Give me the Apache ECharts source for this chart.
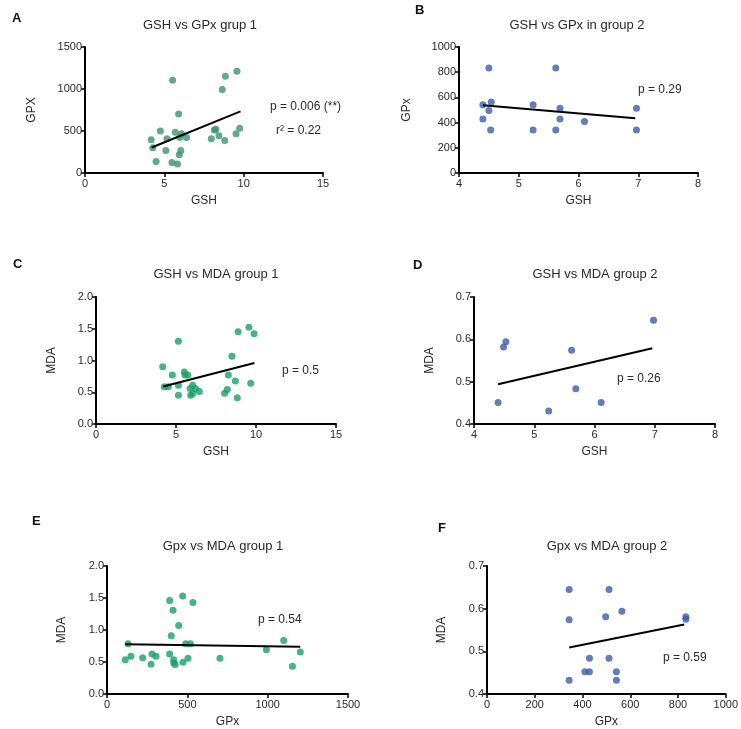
<!DOCTYPE html>
<html>
<head>
<meta charset="utf-8">
<script src="https://cdn.jsdelivr.net/npm/echarts@6/dist/echarts.min.js"></script>
<style>
  html, body { margin: 0; padding: 0; background: #fff; }
  #chart { width: 741px; height: 729px; }
</style>
</head>
<body>
<div id="chart"></div>
<script>
  // A: GSH vs GPx group 1
  const gshA = [5.52, 8.85, 9.58, 8.65, 5.90, 4.17, 4.75, 4.27, 5.10, 5.69, 5.17, 6.08, 5.98, 6.40, 6.04, 5.94, 4.48, 5.48, 5.83, 7.96, 8.15, 8.25, 8.44, 8.81, 9.52, 9.75];
  const gpxA = [1105, 1153, 1212, 995, 703, 395, 501, 300, 268, 486, 407, 466, 422, 422, 268, 217, 138, 126, 107, 407, 513, 521, 442, 387, 466, 533];
  const fitA = [[4.2, 304], [9.8, 734]];

  // B: GSH vs GPx group 2
  const gshB = [4.50, 5.62, 4.40, 4.54, 4.50, 4.40, 4.53, 5.24, 5.24, 5.62, 5.69, 5.69, 6.10, 6.97, 6.97];
  const gpxB = [834, 834, 542, 563, 497, 429, 342, 542, 342, 342, 513, 429, 408, 513, 342];
  const fitB = [[4.4, 537], [6.95, 434]];

  // C: GSH vs MDA group 1
  const gshC = [4.17, 4.27, 4.52, 4.77, 5.15, 5.15, 5.15, 5.52, 5.56, 5.73, 5.88, 6.04, 5.92, 6.04, 6.21, 6.46, 8.04, 8.21, 8.50, 8.27, 8.88, 8.71, 8.83, 9.56, 9.88, 9.67];
  const mdaC = [0.903, 0.585, 0.585, 0.773, 1.305, 0.454, 0.611, 0.820, 0.773, 0.773, 0.559, 0.611, 0.454, 0.480, 0.559, 0.512, 0.486, 0.543, 1.065, 0.773, 1.452, 0.679, 0.412, 1.525, 1.420, 0.642];
  const fitC = [[4.2, 0.59], [9.9, 0.961]];

  // D: GSH vs MDA group 2
  const gshD = [4.40, 4.49, 4.53, 5.24, 5.62, 5.69, 6.11, 6.98];
  const mdaD = [0.451, 0.582, 0.594, 0.431, 0.574, 0.483, 0.451, 0.645];
  const fitD = [[4.4, 0.494], [6.96, 0.579]];

  // E: GPx vs MDA group 1
  const gpxE = [114, 131, 149, 222, 274, 280, 305, 390, 390, 400, 411, 415, 415, 425, 446, 471, 473, 490, 504, 519, 535, 703, 992, 1100, 1154, 1203];
  const mdaE = [0.536, 0.784, 0.588, 0.567, 0.464, 0.624, 0.588, 1.459, 0.624, 0.912, 1.309, 0.536, 0.485, 0.459, 1.072, 1.531, 0.495, 0.784, 0.557, 0.784, 1.428, 0.557, 0.691, 0.835, 0.433, 0.655];
  const fitE = [[114, 0.778], [1203, 0.737]];

  // F: GPx vs MDA group 2
  const gpxF = [344, 344, 344, 511, 497, 565, 429, 511, 410, 429, 542, 542, 833, 833];
  const mdaF = [0.645, 0.574, 0.432, 0.645, 0.581, 0.594, 0.484, 0.484, 0.452, 0.452, 0.452, 0.432, 0.581, 0.575];
  const fitF = [[344, 0.509], [826, 0.563]];

  const FONT = 'Liberation Sans, Arial, sans-serif';
  const TXT = '#2a2a2a';
  const GREEN_A = '#3a946c';
  const GREEN = '#17a064';
  const BLUE = '#3a5caa';

  const zip = (xs, ys) => xs.map((x, i) => [x, ys[i]]);

  const panels = [
    { grid: { left: 85, top: 47, width: 238, height: 126 }, x: [0, 15, 5], y: [0, 1500, 500], dec: 0, xName: 'GSH', yName: 'GPX', yGap: 47, data: zip(gshA, gpxA), fit: fitA, color: GREEN_A },
    { grid: { left: 459, top: 47, width: 239, height: 126 }, x: [4, 8, 1], y: [0, 1000, 200], dec: 0, xName: 'GSH', yName: 'GPx', yGap: 46, data: zip(gshB, gpxB), fit: fitB, color: BLUE },
    { grid: { left: 96, top: 297, width: 240, height: 127 }, x: [0, 15, 5], y: [0, 2, 0.5], dec: 1, xName: 'GSH', yName: 'MDA', yGap: 38, data: zip(gshC, mdaC), fit: fitC, color: GREEN },
    { grid: { left: 474, top: 297, width: 241, height: 127 }, x: [4, 8, 1], y: [0.4, 0.7, 0.1], dec: 1, xName: 'GSH', yName: 'MDA', yGap: 38, data: zip(gshD, mdaD), fit: fitD, color: BLUE },
    { grid: { left: 107, top: 566, width: 241, height: 129 }, x: [0, 1500, 500], y: [0, 2, 0.5], dec: 1, xName: 'GPx', yName: 'MDA', yGap: 39, data: zip(gpxE, mdaE), fit: fitE, color: GREEN },
    { grid: { left: 487, top: 566, width: 240, height: 128 }, x: [0, 1000, 200], y: [0.4, 0.7, 0.1], dec: 1, xName: 'GPx', yName: 'MDA', yGap: 39, data: zip(gpxF, mdaF), fit: fitF, color: BLUE }
  ];

  const axisCommon = {
    splitLine: { show: false },
    axisLine: { onZero: false, lineStyle: { color: '#000', width: 2 } },
    axisTick: { length: 4, lineStyle: { color: '#000', width: 1.5 } },
    nameLocation: 'middle',
    nameTextStyle: { color: TXT, fontSize: 12, fontFamily: FONT }
  };

  const option = {
    animation: false,
    backgroundColor: '#fff',
    grid: panels.map(p => p.grid),
    xAxis: panels.map((p, i) => Object.assign({}, axisCommon, {
      type: 'value', gridIndex: i, min: p.x[0], max: p.x[1], interval: p.x[2],
      name: p.xName, nameGap: 22,
      axisLabel: { color: TXT, fontSize: 11, fontFamily: FONT, margin: 5,
        formatter: v => String(v) }
    })),
    yAxis: panels.map((p, i) => Object.assign({}, axisCommon, {
      type: 'value', gridIndex: i, min: p.y[0], max: p.y[1], interval: p.y[2],
      name: p.yName, nameGap: p.yGap,
      axisLabel: { color: TXT, fontSize: 11, fontFamily: FONT, margin: 3,
        formatter: v => v.toFixed(p.dec) }
    })),
    series: [].concat(
      panels.map((p, i) => ({
        type: 'scatter', xAxisIndex: i, yAxisIndex: i, symbolSize: 7,
        itemStyle: { color: p.color }, data: p.data
      })),
      panels.map((p, i) => ({
        type: 'line', xAxisIndex: i, yAxisIndex: i, symbol: 'none',
        lineStyle: { color: '#000', width: 2 }, data: p.fit
      }))
    ),
    graphic: [
      // panel titles
      ['GSH vs GPx grup 1', 200, 25],
      ['GSH vs GPx in group 2', 577, 25],
      ['GSH vs MDA group 1', 216, 274],
      ['GSH vs MDA group 2', 595, 274],
      ['Gpx vs MDA group 1', 223, 546],
      ['Gpx vs MDA group 2', 607, 546]
    ].map(t => ({
      type: 'text', x: t[1], y: t[2],
      style: { text: t[0], fill: TXT, font: '13px ' + FONT, textAlign: 'center', textVerticalAlign: 'middle' }
    })).concat([
      // panel letters
      ['A', 12, 18], ['B', 415, 10], ['C', 13, 264],
      ['D', 413, 265], ['E', 32, 521], ['F', 438, 528]
    ].map(t => ({
      type: 'text', x: t[1], y: t[2],
      style: { text: t[0], fill: '#111', font: 'bold 13px ' + FONT, textAlign: 'left', textVerticalAlign: 'middle' }
    }))).concat([
      // statistics
      ['p = 0.006 (**)', 270, 107],
      ['r\u00b2 = 0.22', 276, 131],
      ['p = 0.29', 638, 90],
      ['p = 0.5', 282, 371],
      ['p = 0.26', 617, 379],
      ['p = 0.54', 258, 620],
      ['p = 0.59', 663, 658]
    ].map(t => ({
      type: 'text', x: t[1], y: t[2],
      style: { text: t[0], fill: TXT, font: '12px ' + FONT, textAlign: 'left', textVerticalAlign: 'middle' }
    })))
  };

  const chart = echarts.init(document.getElementById('chart'));
  chart.setOption(option);
</script>
</body>
</html>
